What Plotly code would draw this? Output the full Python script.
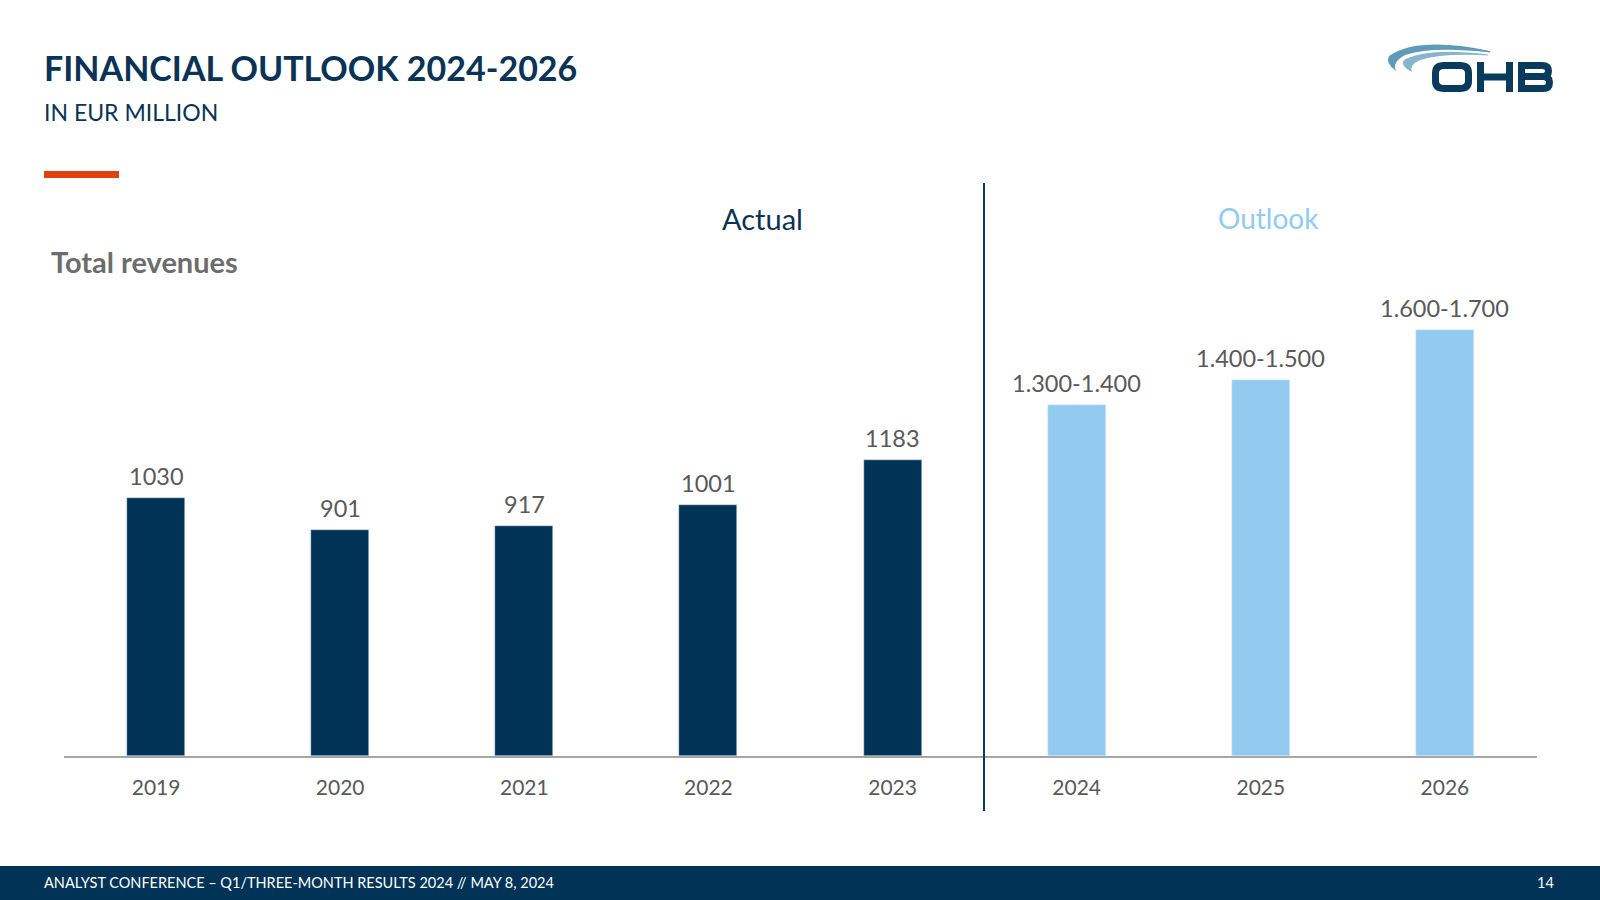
import plotly.graph_objects as go

# ---- data ----
actual_years = ["2019", "2020", "2021", "2022", "2023"]
actual_values = [1030, 901, 917, 1001, 1183]
actual_labels = ["1030", "901", "917", "1001", "1183"]

outlook_years = ["2024", "2025", "2026"]
outlook_values = [1400, 1500, 1700]          # upper end of guidance range
outlook_labels = ["1.300-1.400", "1.400-1.500", "1.600-1.700"]

NAVY = "#003356"
LIGHT = "#92cbef"
GRAY = "#595959"
LOGO = "#0a3a5c"
FONT = "Lato"

# plot area in pixels
L, R, T, B = 64, 1537, 183, 756
W, H = R - L, B - T


def px(x):
    return (x - L) / W


def py(y):
    return (B - y) / H


fig = go.Figure()
fig.add_trace(go.Bar(x=actual_years, y=actual_values, marker_color=NAVY,
                     width=0.315, hoverinfo="x+y", showlegend=False))
fig.add_trace(go.Bar(x=outlook_years, y=outlook_values, marker_color=LIGHT,
                     width=0.315, hoverinfo="x+y", showlegend=False))

annotations = []
all_vals = actual_values + outlook_values
all_labs = actual_labels + outlook_labels
for i, (v, lab) in enumerate(zip(all_vals, all_labs)):
    annotations.append(dict(x=i, y=v, xref="x", yref="y", text=lab,
                            showarrow=False, yanchor="bottom", yshift=6,
                            font=dict(family=FONT, size=23.5, color=GRAY)))

# header texts
annotations += [
    dict(x=px(42), y=py(68), xref="paper", yref="paper", xanchor="left", yanchor="middle",
         text="<b>FINANCIAL OUTLOOK 2024-2026</b>", showarrow=False,
         font=dict(family=FONT, size=34, color="#0a3356")),
    dict(x=px(42), y=py(112), xref="paper", yref="paper", xanchor="left", yanchor="middle",
         text="IN EUR MILLION", showarrow=False,
         font=dict(family=FONT, size=23, color="#0a3356")),
    dict(x=px(49), y=py(261), xref="paper", yref="paper", xanchor="left", yanchor="middle",
         text="<b>Total revenues</b>", showarrow=False,
         font=dict(family=FONT, size=29, color="#6d6d6d")),
    dict(x=px(762), y=py(218), xref="paper", yref="paper", xanchor="center", yanchor="middle",
         text="Actual", showarrow=False,
         font=dict(family=FONT, size=29, color="#0a3356")),
    dict(x=px(1268), y=py(218), xref="paper", yref="paper", xanchor="center", yanchor="middle",
         text="Outlook", showarrow=False,
         font=dict(family=FONT, size=28, color=LIGHT)),
    dict(x=px(42), y=py(883), xref="paper", yref="paper", xanchor="left", yanchor="middle",
         text="ANALYST CONFERENCE – Q1/THREE-MONTH RESULTS 2024 // MAY 8, 2024", showarrow=False,
         font=dict(family=FONT, size=14.5, color="white")),
    dict(x=px(1556), y=py(883), xref="paper", yref="paper", xanchor="right", yanchor="middle",
         text="14", showarrow=False,
         font=dict(family=FONT, size=14.5, color="white")),
]


def path(points, close=True):
    d = ""
    for cmd, pts in points:
        d += cmd + " " + " ".join(f"{px(a):.5f},{py(b):.5f}" for a, b in pts) + " "
    return d + ("Z" if close else "")


def rect(x0, x1, y0, y1, color):
    return dict(type="rect", xref="paper", yref="paper", x0=px(x0), x1=px(x1),
                y0=py(y1), y1=py(y0), fillcolor=color, line=dict(width=0))


stroke = dict(color=LOGO, width=7)
shapes = [
    # orange accent bar
    rect(44, 119, 171, 178, "#e0400e"),
    # separator
    dict(type="line", xref="paper", yref="paper", x0=px(984), x1=px(984), y0=py(183), y1=py(811),
         line=dict(color="#0d3a5c", width=2)),
    # footer band
    dict(type="rect", xref="paper", yref="paper", x0=px(0), x1=px(1600), y0=py(900), y1=py(866),
         fillcolor=NAVY, line=dict(width=0), layer="below"),
    # logo swooshes
    dict(type="path", xref="paper", yref="paper", fillcolor="#5f9bb9", line=dict(width=0),
         path=path([("M", [(1490, 51)]), ("Q", [(1418, 36), (1389, 56)]),
                    ("Q", [(1385, 63), (1396, 71)]), ("Q", [(1392, 62), (1405, 55)]),
                    ("Q", [(1432, 46), (1490, 52.5)])])),
    dict(type="path", xref="paper", yref="paper", fillcolor="#86b5cd", line=dict(width=0),
         path=path([("M", [(1488, 54.5)]), ("Q", [(1428, 47), (1404, 60)]),
                    ("Q", [(1400, 66), (1412, 72)]), ("Q", [(1409, 65), (1420, 60)]),
                    ("Q", [(1442, 53), (1488, 55.5)])])),
    # logo "O"
    dict(type="path", xref="paper", yref="paper", fillcolor="rgba(0,0,0,0)", line=stroke,
         path=path([("M", [(1444, 65.5)]), ("L", [(1460, 65.5)]), ("Q", [(1468.5, 65.5), (1468.5, 73)]),
                    ("L", [(1468.5, 81)]), ("Q", [(1468.5, 88.5), (1460, 88.5)]),
                    ("L", [(1444, 88.5)]), ("Q", [(1435.5, 88.5), (1435.5, 81)]),
                    ("L", [(1435.5, 73)]), ("Q", [(1435.5, 65.5), (1444, 65.5)])])),
    # logo "H"
    rect(1477, 1484, 62, 92, LOGO),
    rect(1506, 1513, 62, 92, LOGO),
    rect(1483, 1507, 73.5, 80.5, LOGO),
    # logo "B"
    rect(1518, 1525, 62, 92, LOGO),
    dict(type="path", xref="paper", yref="paper", fillcolor="rgba(0,0,0,0)", line=stroke,
         path=path([("M", [(1522, 65.5)]), ("L", [(1542, 65.5)]), ("Q", [(1548.5, 65.5), (1548.5, 71)]),
                    ("Q", [(1548.5, 76.5), (1542, 76.5)]), ("L", [(1522, 76.5)]),
                    ("M", [(1540, 76.5)]), ("L", [(1543, 76.5)]), ("Q", [(1549.5, 76.5), (1549.5, 82.5)]),
                    ("Q", [(1549.5, 88.5), (1543, 88.5)]), ("L", [(1522, 88.5)])], close=False)),
]

fig.update_layout(
    width=1600, height=900,
    margin=dict(l=L, r=1600 - R, t=T, b=900 - B),
    paper_bgcolor="white", plot_bgcolor="white",
    barmode="overlay", bargap=0,
    showlegend=False,
    annotations=annotations, shapes=shapes,
    xaxis=dict(type="category", range=[-0.5, 7.5], showgrid=False, zeroline=False,
               showline=True, linecolor="#a6a6a6", linewidth=1.5, ticks="",
               ticklabelstandoff=12,
               tickfont=dict(family=FONT, size=21, color=GRAY), fixedrange=True),
    yaxis=dict(range=[0, H / 0.2505], visible=False, fixedrange=True),
)

fig.write_html("out.html", config={"displayModeBar": False},
               post_script="document.body.style.margin='0';document.body.style.overflow='hidden';")
